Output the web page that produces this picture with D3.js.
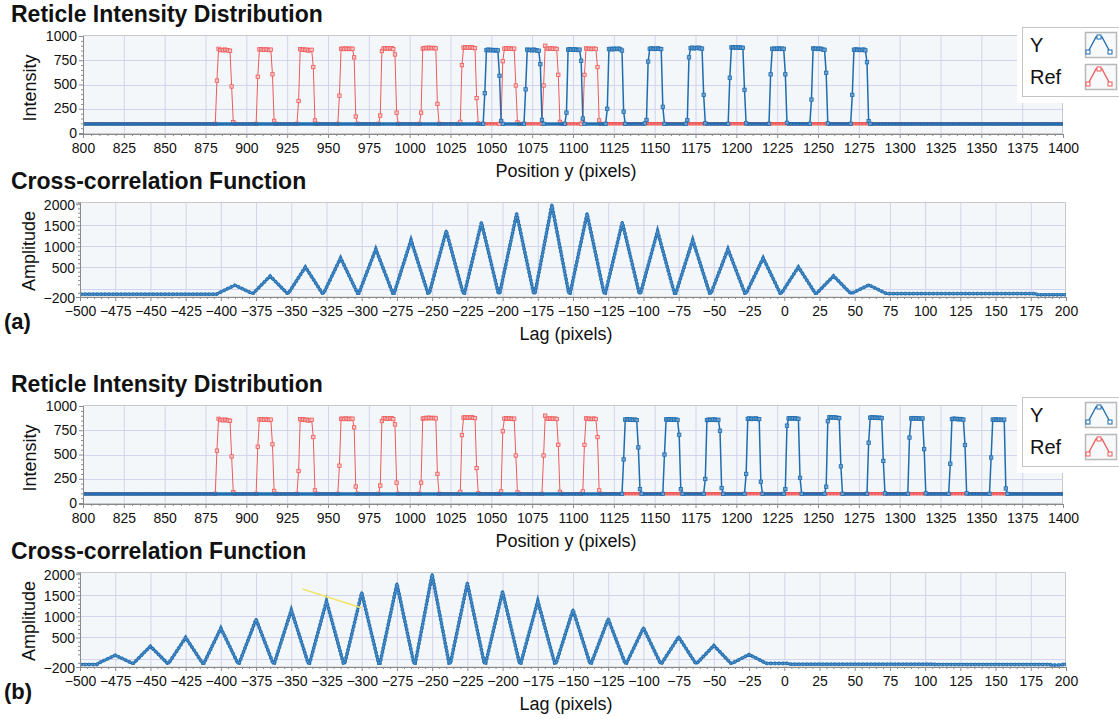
<!DOCTYPE html>
<html>
<head>
<meta charset="utf-8">
<script src="https://cdn.jsdelivr.net/npm/d3@7/dist/d3.min.js"></script>
<style>
body { margin: 0; background: #fff; }
text { font-family: "Liberation Sans", Arial, sans-serif; fill: #111; }
</style>
</head>
<body>
<div id="chart"></div>
<script>
// tick labels
var posTicks = [800, 825, 850, 875, 900, 925, 950, 975, 1000, 1025, 1050, 1075, 1100, 1125, 1150, 1175, 1200, 1225, 1250, 1275, 1300, 1325, 1350, 1375, 1400];
var lagTicks = [-500, -475, -450, -425, -400, -375, -350, -325, -300, -275, -250, -225, -200, -175, -150, -125, -100, -75, -50, -25, 0, 25, 50, 75, 100, 125, 150, 175, 200];
var intensityTicks = [0, 250, 500, 750, 1000];
var amplitudeTicks = [-200, 500, 1000, 1500, 2000];
var amplitudeGrid = [0, 500, 1000, 1500, 2000];
var seriesNames = ['Y', 'Ref'];
var panelLabels = ['(a)', '(b)'];

// intensity profiles: [first x, samples at consecutive pixels]
var refBase = 95;
var refPulses = [
  [881, [95, 540, 868, 855, 858, 852, 860, 855, 850, 848, 480, 112, 95]],
  [906, [95, 580, 862, 865, 860, 858, 862, 860, 855, 860, 605, 125, 95]],
  [931, [95, 330, 865, 858, 862, 855, 860, 850, 855, 858, 680, 130, 95]],
  [956, [95, 385, 868, 870, 865, 872, 868, 865, 870, 868, 780, 170, 95]],
  [981, [95, 180, 845, 872, 875, 868, 870, 872, 875, 865, 810, 210, 95]],
  [1006, [95, 210, 870, 875, 878, 872, 880, 876, 874, 878, 872, 300, 95]],
  [1030, [95, 115, 700, 880, 885, 878, 882, 880, 885, 878, 875, 360, 100]],
  [1055, [95, 120, 740, 870, 875, 868, 872, 870, 866, 870, 490, 110, 95]],
  [1081, [95, 490, 900, 870, 868, 872, 870, 868, 870, 866, 600, 115, 95]],
  [1105, [95, 120, 600, 872, 868, 870, 865, 868, 870, 866, 680, 130, 95]]
];
var yBaseA = 93;
var yPulsesA = [
  [1045, [95, 410, 855, 860, 852, 858, 855, 850, 856, 852, 590, 125, 95]],
  [1070, [95, 450, 860, 855, 858, 852, 860, 855, 850, 848, 710, 135, 95]],
  [1095, [95, 210, 860, 865, 860, 858, 862, 860, 855, 860, 745, 150, 95]],
  [1120, [95, 250, 865, 868, 862, 870, 865, 868, 870, 862, 850, 220, 95]],
  [1144, [100, 135, 737, 868, 872, 870, 866, 870, 872, 868, 865, 270, 95]],
  [1169, [95, 133, 780, 875, 880, 872, 878, 875, 880, 872, 870, 393, 100]],
  [1195, [95, 570, 882, 885, 880, 884, 880, 882, 880, 878, 445, 100]],
  [1220, [95, 605, 868, 870, 866, 870, 872, 866, 870, 868, 605, 105]],
  [1245, [95, 345, 872, 868, 870, 866, 870, 868, 860, 858, 620, 100]],
  [1270, [95, 393, 858, 862, 856, 860, 855, 858, 860, 852, 730, 123, 95]]
];
var yBaseB = 93;
var yPulsesB = [
  [1130, [95, 450, 860, 865, 858, 862, 860, 856, 860, 855, 573, 143, 95]],
  [1155, [95, 500, 862, 858, 865, 860, 858, 862, 860, 856, 703, 143, 95]],
  [1180, [95, 248, 855, 860, 858, 856, 862, 860, 855, 858, 745, 154, 95]],
  [1205, [95, 300, 868, 872, 866, 870, 868, 872, 866, 865, 220, 95]],
  [1229, [95, 143, 797, 872, 875, 870, 874, 872, 870, 868, 259, 95]],
  [1254, [95, 168, 843, 885, 880, 884, 882, 880, 878, 875, 378, 95]],
  [1280, [95, 622, 880, 884, 878, 882, 880, 876, 880, 875, 434, 100]],
  [1305, [95, 675, 872, 876, 870, 874, 872, 870, 868, 872, 556, 100]],
  [1330, [95, 405, 865, 870, 866, 868, 862, 866, 864, 860, 598, 100]],
  [1355, [95, 469, 860, 858, 862, 856, 860, 858, 855, 860, 150, 95]]
];

// cross-correlation: peak lags / heights, trough level and flat ends
var corrLagsA = [-390, -365, -340, -315, -290, -265, -240, -215, -190, -165, -140, -115, -90, -65, -40, -15, 10, 35, 60];
var corrAmpsA = [80, 295, 510, 725, 935, 1150, 1365, 1565, 1775, 1980, 1775, 1570, 1360, 1150, 935, 725, 510, 300, 85];
var corrTroughA = -110;
var corrLeftA = [[-500, -135], [-403, -135]];
var corrRightA = [[73, -120], [178, -120], [180, -145], [200, -145]];

var corrLagsB = [-475, -450, -425, -400, -375, -350, -325, -300, -275, -250, -225, -200, -175, -150, -125, -100, -75, -50, -25];
var corrAmpsB = [80, 290, 500, 720, 930, 1150, 1360, 1560, 1770, 1990, 1790, 1585, 1365, 1155, 940, 725, 510, 310, 95];
var corrTroughB = -110;
var corrLeftB = [[-500, -140], [-488, -140]];
var corrRightB = [[-12, -115], [2, -115], [5, -135], [105, -135], [108, -140], [188, -140], [190, -155], [196, -150], [200, -130]];
var markLineB = [[-342, 1650], [-300, 1200]];

// colours
var blue = '#1f6cae', blueFill = '#6da3d2';
var red = '#ee5a5a', redFill = '#f8c4c4';
var plotBg = '#f3f7f9', gridColor = '#d2d3ec', frameColor = '#c9c9c9', axisColor = '#8a8a8a';

var panels = [
  {dy: 0, yPulses: yPulsesA, yBase: yBaseA, lags: corrLagsA, amps: corrAmpsA, trough: corrTroughA, left: corrLeftA, right: corrRightA, mark: null},
  {dy: 370, yPulses: yPulsesB, yBase: yBaseB, lags: corrLagsB, amps: corrAmpsB, trough: corrTroughB, left: corrLeftB, right: corrRightB, mark: markLineB}
];

var svg = d3.select('#chart').append('svg').attr('width', 1119).attr('height', 719);
var line = d3.line().x(function(d) { return d[0]; }).y(function(d) { return d[1]; });

function pulsePoints(base, pulses) {
  var pts = [[800, base]];
  pulses.forEach(function(p) { p[1].forEach(function(v, i) { pts.push([p[0] + i, v]); }); });
  pts.push([1400, base]);
  return pts;
}
function baseSegments(base, pulses) {
  var segs = [], start = 800;
  pulses.forEach(function(p) { segs.push([[start, base], [p[0], base]]); start = p[0] + p[1].length - 1; });
  segs.push([[start, base], [1400, base]]);
  return segs;
}
function corrPoints(left, lags, amps, trough, right) {
  var pts = left.slice();
  lags.forEach(function(l, i) { pts.push([l - 12, trough], [l, amps[i]], [l + 12, trough]); });
  return pts.concat(right);
}

function drawIntensity(g, pan) {
  var x = d3.scaleLinear().domain([800, 1400]).range([83, 1063]);
  var y = d3.scaleLinear().domain([-10, 1000]).range([134, 36]);
  g.append('rect').attr('x', 83).attr('y', 36).attr('width', 980).attr('height', 98).attr('fill', plotBg);
  g.selectAll('line.vg').data(posTicks.slice(1, -1)).enter().append('line').attr('class', 'vg')
    .attr('x1', function(d) { return x(d) + 0.5; }).attr('x2', function(d) { return x(d) + 0.5; })
    .attr('y1', 36).attr('y2', 134).attr('stroke', gridColor);
  g.selectAll('line.hg').data(intensityTicks.slice(1, -1)).enter().append('line').attr('class', 'hg')
    .attr('x1', 83).attr('x2', 1063).attr('y1', function(d) { return Math.round(y(d)) + 0.5; }).attr('y2', function(d) { return Math.round(y(d)) + 0.5; })
    .attr('stroke', gridColor);
  g.append('rect').attr('x', 83.5).attr('y', 35.5).attr('width', 979).attr('height', 98).attr('fill', 'none').attr('stroke', frameColor);

  var series = [
    {base: refBase, pulses: refPulses, color: red, fill: redFill, w: 1},
    {base: pan.yBase, pulses: pan.yPulses, color: blue, fill: blueFill, w: 1.5}
  ];
  series.forEach(function(s) {
    var sg = g.append('g');
    var segs = baseSegments(s.base, s.pulses);
    sg.selectAll('path.base').data(segs).enter().append('path')
      .attr('d', function(d) { return line(d.map(function(p) { return [x(p[0]), y(p[1])]; })); })
      .attr('stroke', s.color).attr('stroke-width', 3.4).attr('fill', 'none');
    sg.selectAll('path.base2').data(segs).enter().append('path')
      .attr('d', function(d) { return line(d.map(function(p) { return [x(p[0]), y(p[1])]; })); })
      .attr('stroke', s.fill).attr('stroke-width', 1.2).attr('stroke-dasharray', '1.6,1.6').attr('fill', 'none');
    sg.append('path').attr('d', line(pulsePoints(s.base, s.pulses).map(function(p) { return [x(p[0]), y(p[1])]; })))
      .attr('stroke', s.color).attr('stroke-width', s.w).attr('fill', 'none');
    var samples = [];
    s.pulses.forEach(function(p) { p[1].forEach(function(v, i) { samples.push([p[0] + i, v]); }); });
    sg.selectAll('rect.m').data(samples).enter().append('rect')
      .attr('x', function(d) { return x(d[0]) - 1.7; }).attr('y', function(d) { return y(d[1]) - 1.7; })
      .attr('width', 3.4).attr('height', 3.4).attr('fill', s.fill).attr('stroke', s.color).attr('stroke-width', 0.8);
  });

  // axes
  var ax = g.append('g').attr('transform', 'translate(0,134)')
    .call(d3.axisBottom(x).tickValues(posTicks).tickSize(4).tickFormat(d3.format('d')));
  var xMinor = g.append('g').attr('transform', 'translate(0,134)')
    .call(d3.axisBottom(x).tickValues(d3.range(805, 1400, 5).filter(function(d) { return d % 25 !== 0; })).tickSize(2).tickFormat(''));
  var ay = g.append('g').attr('transform', 'translate(83,0)')
    .call(d3.axisLeft(y).tickValues(intensityTicks).tickSize(4).tickFormat(d3.format('d')));
  var yMinor = g.append('g').attr('transform', 'translate(83,0)')
    .call(d3.axisLeft(y).tickValues(d3.range(50, 1000, 50).filter(function(d) { return d % 250 !== 0; })).tickSize(2).tickFormat(''));
  [ax, xMinor, ay, yMinor].forEach(function(a) { a.select('.domain').attr('stroke', axisColor); a.selectAll('.tick line').attr('stroke', axisColor); });
  ax.selectAll('text').attr('font-size', 14).attr('dy', 0).attr('y', 19).attr('fill', '#111');
  ay.selectAll('text').attr('font-size', 14).attr('x', -6).attr('dy', '0.3em').attr('fill', '#111');

  g.append('text').attr('x', 11).attr('y', 22).attr('font-size', 23).attr('font-weight', 'bold').text('Reticle Intensity Distribution');
  g.append('text').attr('transform', 'translate(36,88) rotate(-90)').attr('text-anchor', 'middle').attr('font-size', 18).text('Intensity');
  g.append('text').attr('x', 566).attr('y', 177).attr('text-anchor', 'middle').attr('font-size', 18).text('Position y (pixels)');

  // legend
  var lg = g.append('g');
  lg.append('rect').attr('x', 1017).attr('y', 22).attr('width', 110).attr('height', 81).attr('fill', '#fff');
  lg.append('rect').attr('x', 1022.5).attr('y', 27.5).attr('width', 110).attr('height', 69).attr('fill', '#fff').attr('stroke', '#c4c4c4');
  var legendItems = [{name: seriesNames[0], color: blue, y: 32}, {name: seriesNames[1], color: red, y: 64}];
  legendItems.forEach(function(it) {
    lg.append('text').attr('x', 1030).attr('y', it.y + 20).attr('font-size', 20).text(it.name);
    lg.append('rect').attr('x', 1085.5).attr('y', it.y + 0.5).attr('width', 31).attr('height', 25).attr('fill', '#f7f9fb').attr('stroke', '#b8b8b8').attr('stroke-width', 1.5);
    var icon = [[1088, it.y + 20], [1096, it.y + 5], [1102, it.y + 5], [1110, it.y + 20]];
    lg.append('path').attr('d', line(icon)).attr('stroke', it.color).attr('stroke-width', 1.3).attr('fill', 'none');
    lg.selectAll(null).data([icon[0], [1099, it.y + 5], icon[3]]).enter().append('rect')
      .attr('x', function(d) { return d[0] - 2; }).attr('y', function(d) { return d[1] - 2; })
      .attr('width', 4).attr('height', 4).attr('fill', '#fff').attr('stroke', it.color);
  });
}

function drawCorr(g, pan, label) {
  var x = d3.scaleLinear().domain([-500, 200]).range([80, 1066]);
  var y = d3.scaleLinear().domain([-200, 2040]).range([297, 202.5]);
  g.append('rect').attr('x', 80).attr('y', 202.5).attr('width', 986).attr('height', 94.5).attr('fill', plotBg);
  g.selectAll('line.vg').data(lagTicks.slice(1, -1)).enter().append('line')
    .attr('x1', function(d) { return x(d) + 0.5; }).attr('x2', function(d) { return x(d) + 0.5; })
    .attr('y1', 202.5).attr('y2', 297).attr('stroke', gridColor);
  g.selectAll('line.hg').data(amplitudeGrid.slice(0, -1)).enter().append('line')
    .attr('x1', 80).attr('x2', 1066).attr('y1', function(d) { return Math.round(y(d)) + 0.5; }).attr('y2', function(d) { return Math.round(y(d)) + 0.5; })
    .attr('stroke', gridColor);
  g.append('rect').attr('x', 80.5).attr('y', 202.5).attr('width', 985).attr('height', 94.5).attr('fill', 'none').attr('stroke', frameColor);

  var pts = corrPoints(pan.left, pan.lags, pan.amps, pan.trough, pan.right).map(function(p) { return [x(p[0]), y(p[1])]; });
  g.append('path').attr('d', line(pts)).attr('stroke', blue).attr('stroke-width', 2.8).attr('fill', 'none').attr('stroke-linejoin', 'round');
  g.append('path').attr('d', line(pts)).attr('stroke', '#2f78b8').attr('stroke-width', 3.6).attr('stroke-dasharray', '2.2,1.8').attr('fill', 'none');
  g.append('path').attr('d', line(pts)).attr('stroke', blueFill).attr('stroke-width', 1).attr('stroke-dasharray', '1.4,1.4').attr('fill', 'none');
  if (pan.mark) {
    g.append('path').attr('d', line(pan.mark.map(function(p) { return [x(p[0]), y(p[1])]; })))
      .attr('stroke', '#f2e46a').attr('stroke-width', 1.6).attr('fill', 'none');
  }

  var ax = g.append('g').attr('transform', 'translate(0,297)')
    .call(d3.axisBottom(x).tickValues(lagTicks).tickSize(4).tickFormat(d3.format('d')));
  var xMinor = g.append('g').attr('transform', 'translate(0,297)')
    .call(d3.axisBottom(x).tickValues(d3.range(-495, 200, 5).filter(function(d) { return d % 25 !== 0; })).tickSize(2).tickFormat(''));
  var ay = g.append('g').attr('transform', 'translate(80,0)')
    .call(d3.axisLeft(y).tickValues(amplitudeTicks).tickSize(4).tickFormat(d3.format('d')));
  var yMinor = g.append('g').attr('transform', 'translate(80,0)')
    .call(d3.axisLeft(y).tickValues(d3.range(-100, 2000, 100).filter(function(d) { return d % 500 !== 0; })).tickSize(2).tickFormat(''));
  [ax, xMinor, ay, yMinor].forEach(function(a) { a.select('.domain').attr('stroke', axisColor); a.selectAll('.tick line').attr('stroke', axisColor); });
  ax.selectAll('text').attr('font-size', 14).attr('dy', 0).attr('y', 19).attr('fill', '#111');
  ay.selectAll('text').attr('font-size', 14).attr('x', -5).attr('dy', '0.36em').attr('fill', '#111');

  g.append('text').attr('x', 11).attr('y', 189).attr('font-size', 23).attr('font-weight', 'bold').text('Cross-correlation Function');
  g.append('text').attr('transform', 'translate(35,251) rotate(-90)').attr('text-anchor', 'middle').attr('font-size', 18).text('Amplitude');
  g.append('text').attr('x', 566).attr('y', 340).attr('text-anchor', 'middle').attr('font-size', 18).text('Lag (pixels)');
  g.append('text').attr('x', 4).attr('y', 329).attr('font-size', 22).attr('font-weight', 'bold').text(label);
}

panels.forEach(function(pan, i) {
  var g = svg.append('g').attr('transform', 'translate(0,' + pan.dy + ')');
  drawCorr(g.append('g'), pan, panelLabels[i]);
  drawIntensity(g.append('g'), pan);
});
</script>
</body>
</html>
